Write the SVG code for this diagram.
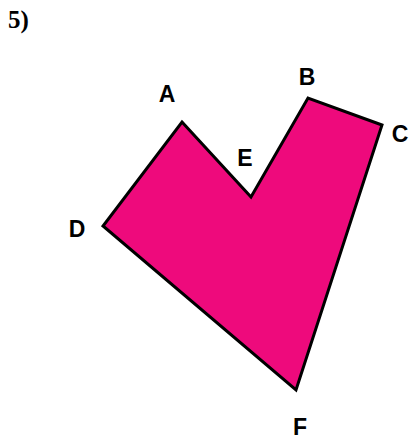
<svg xmlns="http://www.w3.org/2000/svg" width="415" height="441" viewBox="0 0 415 441">
<style>
.lbl{font-family:"Liberation Sans",Arial,sans-serif;font-weight:bold;font-size:23px;fill:#000;text-anchor:middle}
.num{font-family:"Liberation Serif","Times New Roman",serif;font-weight:bold;font-size:25px;fill:#000}
</style>
<rect width="415" height="441" fill="#fff"/>
<polygon id="shape" points="182,122 251,197 308,98 382,125 296,390 103,226" fill="#EE0A7C" stroke="#000" stroke-width="3" stroke-linejoin="miter"/>
<text class="num" x="8" y="28">5)</text>
<text class="lbl" x="167" y="102">A</text>
<text class="lbl" x="307" y="85">B</text>
<text class="lbl" x="400" y="142">C</text>
<text class="lbl" x="77" y="237">D</text>
<text class="lbl" x="245" y="166">E</text>
<text class="lbl" x="300" y="435">F</text>
</svg>
